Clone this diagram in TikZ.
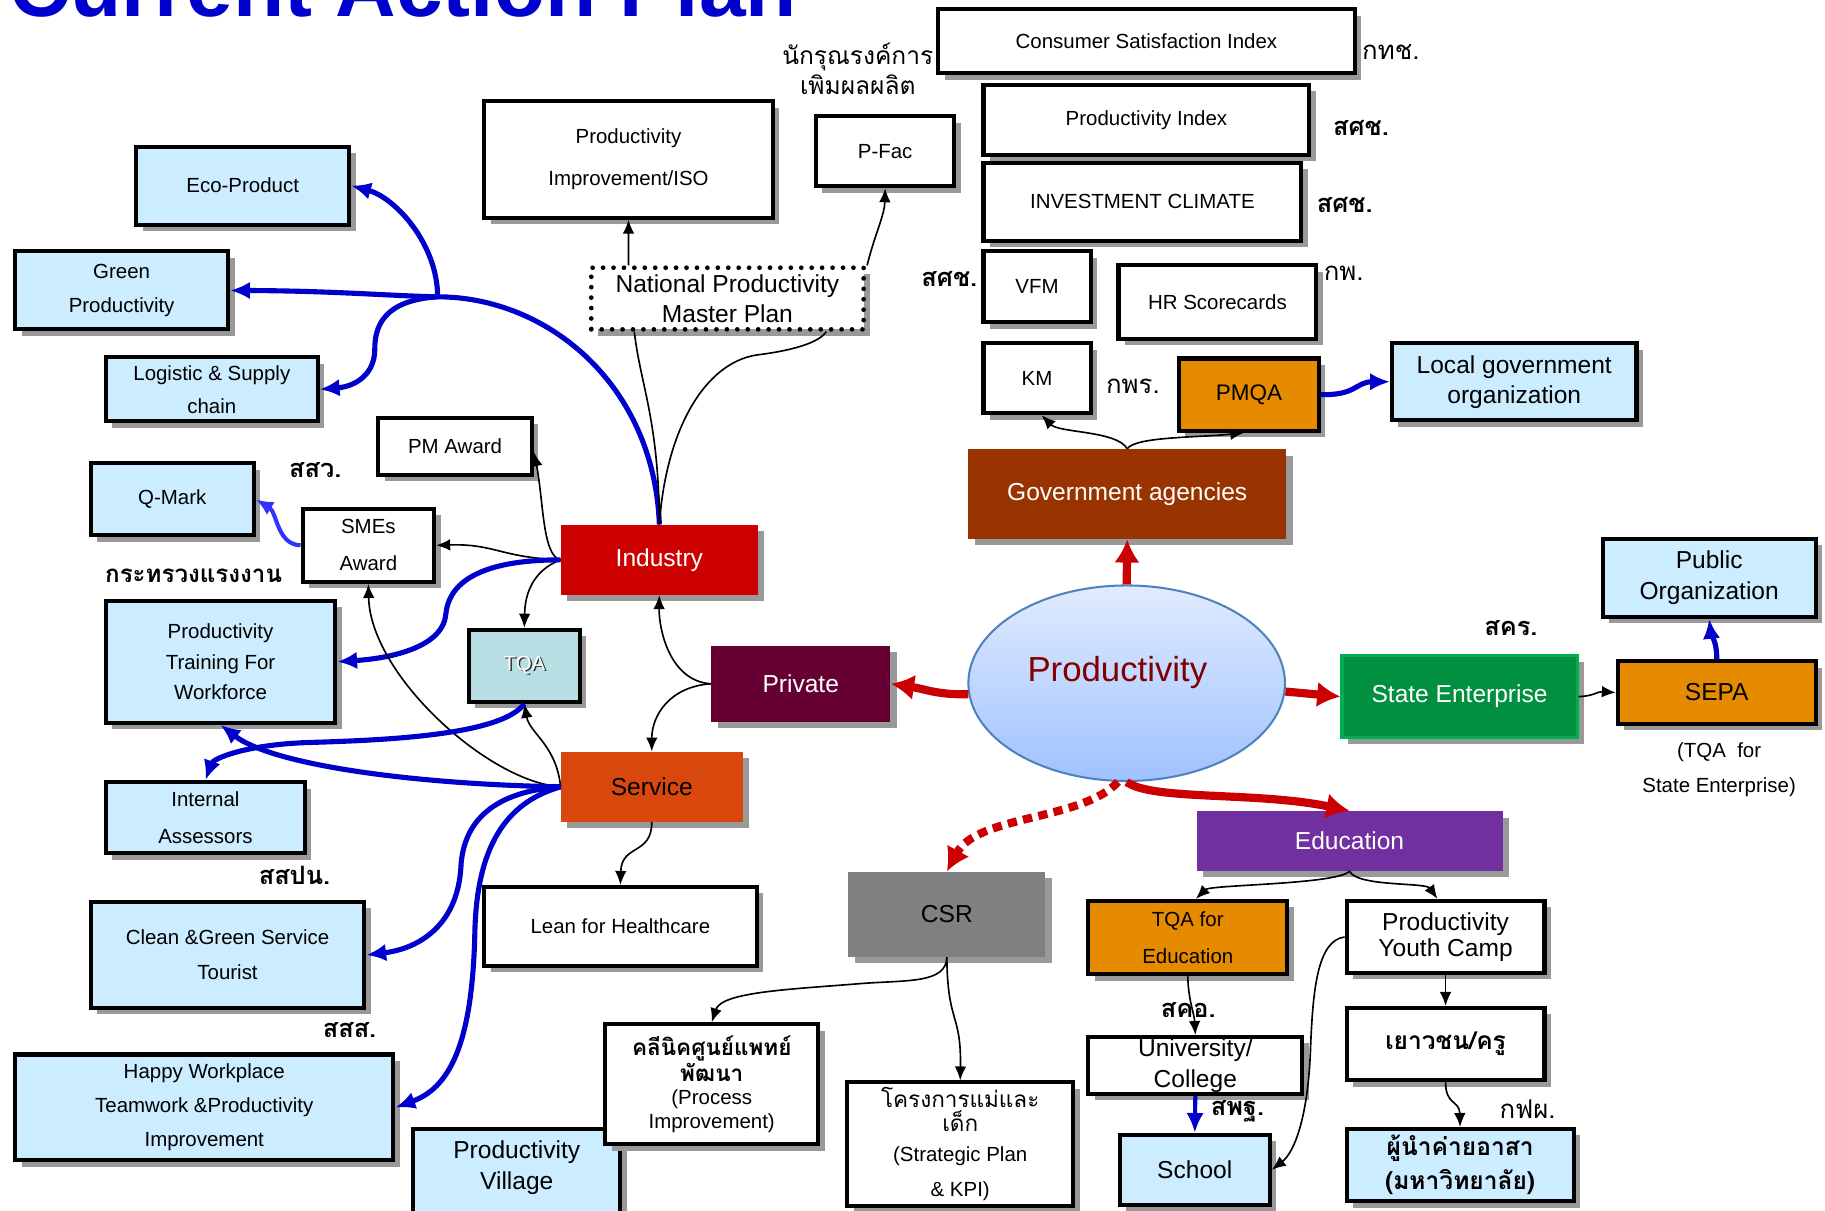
\documentclass[tikz,border=0pt]{standalone}
\usepackage{fontspec}
\setmainfont{Liberation Sans}
\newfontfamily\thaifont[Script=Thai]{Loma}
\usetikzlibrary{shapes.geometric,shadows,arrows.meta}

\definecolor{lightbox}{RGB}{204,236,255}
\definecolor{tqateal}{RGB}{183,222,226}
\definecolor{orangebox}{RGB}{230,138,0}
\definecolor{industryred}{RGB}{204,0,0}
\definecolor{privatemaroon}{RGB}{102,0,51}
\definecolor{serviceorange}{RGB}{216,72,12}
\definecolor{govbrown}{RGB}{153,51,0}
\definecolor{stategreen}{RGB}{0,144,64}
\definecolor{stateborder}{RGB}{0,176,80}
\definecolor{edupurple}{RGB}{112,48,160}
\definecolor{csrgray}{RGB}{128,128,128}
\definecolor{linkblue}{RGB}{0,0,204}
\definecolor{qblue}{RGB}{51,51,255}
\definecolor{arrowred}{RGB}{204,0,0}
\definecolor{prodtop}{RGB}{224,235,255}
\definecolor{prodbot}{RGB}{160,194,255}
\definecolor{prodedge}{RGB}{79,129,189}
\definecolor{prodtext}{RGB}{128,0,0}

\newcommand{\shadowed}[1]{\makebox[0pt][l]{\hspace{0.7pt}\raisebox{-0.7pt}{\textcolor{black!80}{#1}}}\textcolor{white}{#1}}

\tikzset{
  sz/.style 2 args={minimum width=#1*0.2mm, minimum height=#2*0.2mm},
  fs/.style 2 args={font=\fontsize{#1}{#2}\selectfont},
  boxshadow/.style={drop shadow={shadow xshift=1.1mm, shadow yshift=-1.1mm, fill=black!40, opacity=1}},
  whitebox/.style={draw=black, line width=2pt, fill=white, inner sep=0pt, align=center, boxshadow, fs={10}{12}},
  lbbox/.style={whitebox, fill=lightbox},
  orbox/.style={whitebox, fill=orangebox},
  sectorbox/.style={inner sep=0pt, align=center, boxshadow, text=white, fs={12}{14}},
  orglabel/.style={inner sep=0pt, font=\thaifont\bfseries\fontsize{12.4}{15}\selectfont},
  orglabelthin/.style={inner sep=0pt, font=\thaifont\fontsize{12.6}{15}\selectfont},
  link/.style={line width=0.8pt, -{Latex[length=2.4mm, width=2mm]}},
  bluelink/.style={linkblue, line width=2.5pt, -{Latex[length=3.4mm, width=3mm]}},
  qlink/.style={qblue, line width=2pt, -{Latex[length=3mm, width=2.6mm]}},
  redlink/.style={arrowred, line width=4pt, -{Latex[length=4mm, width=4.4mm]}},
}

\begin{document}
\begin{tikzpicture}[x=0.2mm, y=-0.2mm]
  \useasboundingbox (0,0) rectangle (1568,1040);

  % title
  \node[anchor=base west, inner sep=0pt, text=linkblue, font=\bfseries\fontsize{41}{41}\selectfont] (title) at (8,14) {Current Action Plan};

  % centre and sectors
  \node[ellipse, sz={272}{168}, inner sep=0pt, draw=prodedge, line width=1pt, top color=prodtop, bottom color=prodbot,
    label={[text=prodtext, fs={17}{20}, xshift=-1.6mm, yshift=1.8mm]center:Productivity}] (prod) at (968,587) {};
  \node[sectorbox, fill=govbrown, sz={273}{77}] (gov) at (968.5,424.5) {Government agencies};
  \node[sectorbox, fill=privatemaroon, sz={154}{65}] (private) at (688,587.5) {Private};
  \node[sectorbox, fill=industryred, sz={169}{60}] (industry) at (566.5,481) {Industry};
  \node[sectorbox, fill=serviceorange, text=black, sz={156}{60}] (service) at (560,676) {Service};
  \node[sectorbox, fill=stategreen, draw=stateborder, line width=1.5pt, sz={202}{71}] (state) at (1254,598.5) {State Enterprise};
  \node[sectorbox, fill=edupurple, sz={263}{51}] (education) at (1159.5,722.5) {Education};
  \node[sectorbox, fill=csrgray, text=black, sz={169}{73}] (csr) at (813.5,785.5) {CSR};

  % government side
  \node[whitebox, sz={358}{55}] (csi) at (985,35.5) {Consumer Satisfaction Index};
  \node[whitebox, sz={280}{60}] (pindex) at (985,103) {Productivity Index};
  \node[whitebox, sz={273}{67}] (invest) at (981.5,173.5) {INVESTMENT CLIMATE};
  \node[whitebox, sz={92}{61}] (vfm) at (891,246.5) {VFM};
  \node[whitebox, sz={170}{63}] (hrsc) at (1046,259.5) {HR Scorecards};
  \node[whitebox, sz={92}{60}] (km) at (891,325) {KM};
  \node[orbox, sz={120}{62}, fs={11}{13}] (pmqa) at (1073,339) {PMQA};
  \node[lbbox, sz={210}{66}, fs={12}{14.7}] (localgov) at (1301,328) {Local government\\organization};

  % state enterprise side
  \node[orbox, sz={170}{54}, fs={12}{14}] (sepa) at (1475,595) {SEPA};
  \node[lbbox, sz={183}{67}, fs={12}{15.3}] (puborg) at (1468.5,496.5) {Public\\Organization};
  \node[align=center, inner sep=0pt, fs={10}{17}] (sepanote) at (1477,661) {(TQA\ \ for\\State Enterprise)};

  % industry side
  \node[whitebox, sz={248}{100}, fs={10}{20.4}] (piso) at (540,137) {Productivity\\Improvement/ISO};
  \node[whitebox, sz={119}{60}] (pfac) at (760.5,130) {P-Fac};
  \node[whitebox, sz={234}{53}, fs={12}{14.7}, line width=2.3pt, dash pattern=on 0pt off 5.1pt, line cap=round] (npmp) at (625,256.5) {National Productivity\\Master Plan};
  \node[lbbox, sz={183}{67}] (eco) at (208.5,159.5) {Eco-Product};
  \node[lbbox, sz={183}{67}, fs={10}{17}] (green) at (104.5,249.5) {Green\\Productivity};
  \node[lbbox, sz={182}{55}, fs={10}{16}] (logistic) at (182,334.5) {Logistic \& Supply\\chain};
  \node[whitebox, sz={132}{49}] (pmaward) at (391,383.5) {PM Award};
  \node[lbbox, sz={140}{62}] (qmark) at (148,429) {Q-Mark};
  \node[whitebox, sz={113}{63}, fs={10}{18}] (smes) at (316.5,468.5) {SMEs\\Award};
  \node[lbbox, sz={197}{105}, fs={10}{15}] (training) at (189.5,568.5) {Productivity\\Training For\\Workforce};
  \node[whitebox, fill=tqateal, sz={95}{62}] (tqa) at (450.5,572) {\shadowed{TQA}};

  % service side
  \node[lbbox, sz={171}{61}, fs={10}{18}] (internal) at (176.5,702.5) {Internal\\Assessors};
  \node[lbbox, sz={235}{91}, fs={10}{17}] (clean) at (195.5,820.5) {Clean \&Green Service\\Tourist};
  \node[lbbox, sz={325}{91}, fs={10}{16.7}] (happy) at (175.5,951.5) {Happy Workplace\\Teamwork \&Productivity\\Improvement};
  \node[lbbox, sz={178}{90}, anchor=north, label={[fs={12}{15.3}, align=center, yshift=2.3mm]center:{Productivity\\Village}}] (village) at (444,968) {};
  \node[whitebox, sz={234}{68}] (lean) at (533,796) {Lean for Healthcare};

  % csr and education
  \node[whitebox, sz={183}{103}, fs={10}{11.4}] (clinic) at (611.5,931.5) {{\thaifont\bfseries\fontsize{11}{11.4}\selectfont คลีนิคศูนย์แพทย์}\\{\thaifont\bfseries\fontsize{11}{11.4}\selectfont พัฒนา}\\(Process\\Improvement)};
  \node[whitebox, sz={194}{106}, fs={10}{11.4}] (mother) at (825,983) {{\thaifont\fontsize{11}{11.4}\selectfont โครงการแม่และ}\\{\thaifont\fontsize{11}{11.4}\selectfont เด็ก}\\[3.4pt](Strategic Plan\\[5.6pt]\& KPI)};
  \node[orbox, sz={171}{63}, fs={10}{18}] (tqaedu) at (1020.5,805.5) {TQA for\\Education};
  \node[whitebox, sz={170}{62}, fs={12}{13}] (youth) at (1242,805) {Productivity\\Youth Camp};
  \node[whitebox, sz={184}{49}, fs={12}{15}] (univ) at (1027,915.5) {University/\\College};
  \node[lbbox, sz={129}{60}, fs={12}{14}] (school) at (1026.5,1005) {School};
  \node[whitebox, sz={170}{62}, fs={12}{14}] (youthteach) at (1242,897) {{\thaifont\bfseries เยาวชน/ครู}};
  \node[lbbox, sz={195}{62}, fs={12}{16.4}] (leader) at (1254.5,1001) {{\thaifont\bfseries ผู้นำค่ายอาสา}\\{\thaifont\bfseries (มหาวิทยาลัย)}};

  % organisation labels
  \node[orglabelthin, anchor=west] (lcsi) at (1170,45) {กทช.};
  \node[orglabel, anchor=west] (lpindex) at (1145,110) {สศช.};
  \node[orglabel, anchor=west] (linvest) at (1131,176) {สศช.};
  \node[orglabel, anchor=east] (lvfm) at (840,240) {สศช.};
  \node[orglabelthin, anchor=west] (lhrsc) at (1137,235) {กพ.};
  \node[orglabelthin, anchor=west] (lkm) at (950,332) {กพร.};
  \node[orglabel, anchor=west] (lstate) at (1275,540) {สคร.};
  \node[orglabel, anchor=west] (lsmes) at (248,404) {สสว.};
  \node[orglabel, anchor=west, font=\thaifont\bfseries\fontsize{11.8}{15}\selectfont] (ltraining) at (90,495) {กระทรวงแรงงาน};
  \node[orglabel, anchor=west] (linternal) at (222,752) {สสปน.};
  \node[orglabel, anchor=west] (lclean) at (277,885) {สสส.};
  \node[orglabel, anchor=west] (ltqaedu) at (997,868) {สคอ.};
  \node[orglabel, anchor=west] (lschool) at (1040,955) {สพฐ.};
  \node[orglabelthin, anchor=west] (lleader) at (1288,953) {กฟผ.};
  \node[orglabelthin, align=center, font=\thaifont\fontsize{12}{14.7}\selectfont] (lpfac) at (737,59) {นักรุณรงค์การ\\เพิมผลผลิต};

  % red arrows from the centre
  \draw[redlink] (prod.north) -- (gov.south);
  \draw[redlink] (prod.184) .. controls (805,597) and (795,592) .. (private.east);
  \draw[redlink] (prod.357) -- (state.west);
  \draw[redlink] (prod.south) .. controls (990,688) and (1080,680) .. (education.north);
  \draw[redlink, dash pattern=on 1.6mm off 1.1mm] (prod.265) .. controls (930,705) and (840,700) .. (csr.north);

  % private
  \draw[link] (private.west) .. controls (575,585) and (566,540) .. (industry.south);
  \draw[link] (private.west) .. controls (575,590) and (560,615) .. (service.north);

  % industry
  \coordinate (fork) at (376,255);
  \draw[bluelink] (industry.north) .. controls (562,330) and (470,255) .. (fork) .. controls (330,254) and (290,250) .. (green.east);
  \draw[bluelink] (fork) .. controls (376,210) and (340,170) .. (eco.east);
  \draw[bluelink] (fork) .. controls (330,258) and (322,280) .. (322,300) .. controls (322,322) and (305,332) .. (logistic.east);
  \draw[line width=0.8pt] (industry.north) .. controls (566,360) and (550,330) .. ([xshift=-16mm]npmp.south);
  \draw[line width=0.8pt] (industry.north) .. controls (572,370) and (605,312) .. (650,305) .. controls (690,300) and (705,292) .. ([xshift=17mm]npmp.south);
  \draw[link] ([xshift=-17mm]npmp.north) -- (piso.south);
  \draw[link] ([xshift=24mm]npmp.north) .. controls (752,200) and (760,185) .. (pfac.south);
  \draw[link] (industry.west) .. controls (466,478) and (467,430) .. ([yshift=-1mm]pmaward.east);
  \draw[link] (industry.west) .. controls (430,479) and (425,467) .. (smes.east);
  \draw[link] (industry.west) .. controls (458,490) and (451,510) .. (tqa.north);
  \draw[bluelink] (industry.west) .. controls (405,481) and (385,505) .. (383,528) .. controls (380,558) and (330,566) .. (training.east);
  \draw[qlink] (smes.west) .. controls (238,468) and (238,440) .. (qmark.east);

  % service
  \draw[link] (service.west) .. controls (420,672) and (318,580) .. (smes.south);
  \draw[link] (service.west) .. controls (478,640) and (455,630) .. (tqa.south);
  \draw[bluelink] (tqa.south) .. controls (430,632) and (330,636) .. (263,638) .. controls (210,640) and (183,652) .. (internal.north);
  \draw[bluelink] (service.west) .. controls (360,674) and (235,658) .. (training.south);
  \draw[bluelink] (service.west) .. controls (425,680) and (398,705) .. (396,745) .. controls (393,795) and (360,815) .. (clean.east);
  \draw[bluelink] (service.west) .. controls (440,688) and (410,720) .. (408,800) .. controls (406,900) and (385,935) .. (happy.east);
  \draw[link] (service.south) .. controls (560,735) and (534,725) .. (lean.north);

  % government agencies
  \draw[link] (gov.north) .. controls (960,370) and (910,372) .. ([xshift=0.8mm]km.south);
  \draw[link] (gov.north) .. controls (975,375) and (1030,376) .. ([xshift=-0.8mm]pmqa.south);
  \draw[bluelink] (pmqa.east) .. controls (1165,340) and (1165,328) .. (localgov.west);

  % state enterprise
  \draw[link] (state.east) .. controls (1370,598) and (1372,594) .. (sepa.west);
  \draw[bluelink] (sepa.north) .. controls (1475,550) and (1470,545) .. (puborg.south);

  % education
  \draw[link] (education.south) .. controls (1150,760) and (1040,760) .. ([xshift=1.4mm]tqaedu.north);
  \draw[link] (education.south) .. controls (1165,762) and (1225,758) .. ([xshift=-1.4mm]youth.north);
  \draw[link] (tqaedu.south) .. controls (1021,860) and (1026,870) .. (univ.north);
  \draw[bluelink, line width=2pt] (univ.south) -- (school.north);
  \draw[link] (youth.west) .. controls (1132,808) and (1128,850) .. (1126,900) .. controls (1124,960) and (1112,990) .. (school.east);
  \draw[link] (youth.south) -- (youthteach.north);
  \draw[link] (youthteach.south) .. controls (1242,950) and (1254,945) .. (leader.north);

  % csr
  \draw[link] (csr.south) .. controls (813,845) and (780,842) .. (740,845) .. controls (680,850) and (620,852) .. (clinic.north);
  \draw[link] (csr.south) .. controls (814,880) and (826,870) .. (mother.north);

\end{tikzpicture}
\end{document}
